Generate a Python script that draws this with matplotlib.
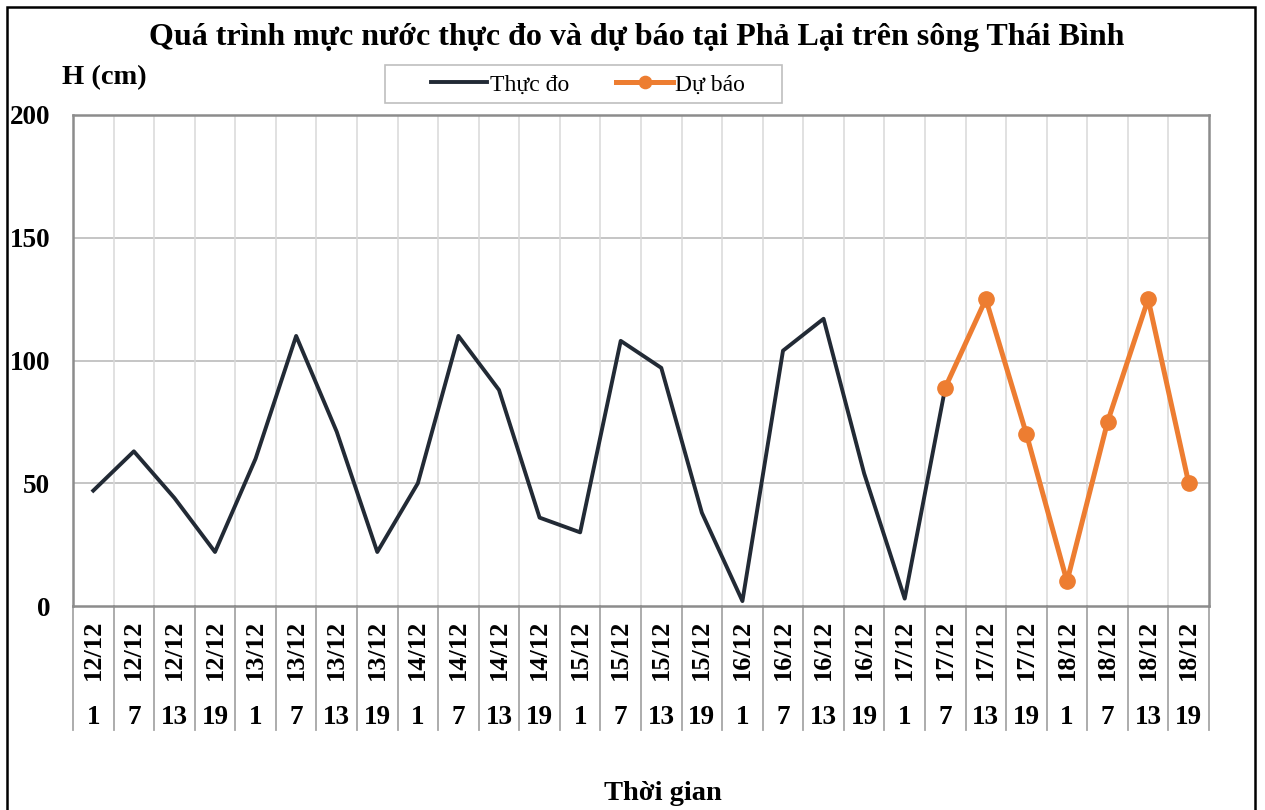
import matplotlib.pyplot as plt
from matplotlib.patches import Rectangle
import matplotlib.transforms as mtransforms

days = ["12/12"] * 4 + ["13/12"] * 4 + ["14/12"] * 4 + ["15/12"] * 4 + ["16/12"] * 4 + ["17/12"] * 4 + ["18/12"] * 4
hours = ["1", "7", "13", "19"] * 7

observed = [47, 63, 44, 22, 60, 110, 71, 22, 50, 110, 88, 36, 30, 108, 97, 38,
            2, 104, 117, 54, 3, 89]
forecast = [89, 125, 70, 10, 75, 125, 50]

OBS_COLOR = "#222a35"
FC_COLOR = "#ed7d31"
FONT = ["Liberation Serif", "DejaVu Serif"]

plt.rcParams["font.family"] = FONT

fig = plt.figure(figsize=(12.65, 8.1), dpi=100)
ax = fig.add_axes([73 / 1265, 1 - 606 / 810, (1209 - 73) / 1265, (606 - 115) / 810])

n = len(hours)
x_obs = [i + 0.5 for i in range(len(observed))]
x_fc = [len(observed) - 1 + i + 0.5 for i in range(len(forecast))]

ax.plot(x_obs, observed, color=OBS_COLOR, lw=2.8, label="Thực đo", zorder=3)
ax.plot(x_fc, forecast, color=FC_COLOR, lw=3.6, marker="o", ms=11, label="Dự báo", zorder=4)

ax.set_xlim(0, n)
ax.set_ylim(0, 200)
ax.set_yticks([0, 50, 100, 150, 200])
ax.set_yticklabels(["0", "50", "100", "150", "200"], fontsize=19.5, fontweight="bold")
ax.tick_params(axis="y", length=0, pad=16.5)
ax.set_xticks([])

for y in [50, 100, 150]:
    ax.axhline(y, color="#c0c0c0", lw=1.3, zorder=1)
for i in range(1, n):
    ax.axvline(i, color="#d9d9d9", lw=1.1, zorder=1)

for side in ["left", "bottom", "right", "top"]:
    ax.spines[side].set_color("#8c8c8c")
    ax.spines[side].set_linewidth(1.8)

# two-level category labels under the axis
trans = mtransforms.blended_transform_factory(ax.transData, ax.transAxes)
for i in range(n + 1):
    ax.plot([i, i], [0, -0.2525], transform=trans, color="#a6a6a6", lw=1.3, clip_on=False)
for i in range(n):
    ax.text(i + 0.5, -0.089, days[i], transform=trans, rotation=90, ha="center", va="center",
            fontsize=19, fontweight="bold")
    ax.text(i + 0.5, -0.227, hours[i], transform=trans, ha="center", va="center",
            fontsize=19.5, fontweight="bold")

fig.text(0.503, 1 - 37 / 810, "Quá trình mực nước thực đo và dự báo tại Phả Lại trên sông Thái Bình",
         ha="center", va="center", fontsize=23, fontweight="bold")
fig.text(62 / 1265, 1 - 78 / 810, "H (cm)", ha="left", va="center", fontsize=20.5, fontweight="bold")
fig.text(663 / 1265, 1 - 793 / 810, "Thời gian", ha="center", va="center", fontsize=20.5, fontweight="bold")

# legend box drawn separately so its padding matches the reference
fig.patches.append(Rectangle((385 / 1265, 1 - 103 / 810), (782 - 385) / 1265, 38 / 810,
                             transform=fig.transFigure, fill=False, edgecolor="#bfbfbf", lw=1.2))
fig.legend(loc="center", bbox_to_anchor=(588 / 1265, 1 - 85 / 810), ncol=2, fontsize=17,
           frameon=False, handlelength=2.4, handletextpad=0.1, columnspacing=2.0,
           borderpad=0.3, markerscale=0.8)

fig.patches.append(Rectangle((7 / 1265, -0.05), (1255 - 7) / 1265, 1.05 - 7 / 810,
                             transform=fig.transFigure, fill=False, edgecolor="black", lw=1.8))

fig.savefig("out.png", dpi=100)
